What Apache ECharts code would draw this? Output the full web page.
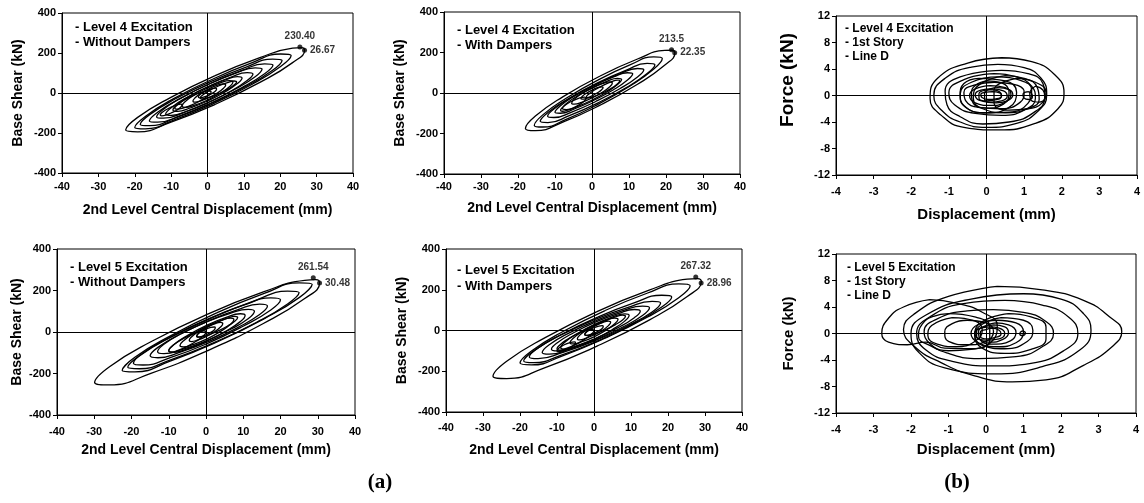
<!DOCTYPE html>
<html>
<head>
<meta charset="utf-8">
<script src="https://cdn.jsdelivr.net/npm/echarts@6/dist/echarts.min.js"></script>
<style>
html, body { margin: 0; padding: 0; background: #fff; }
#chart { width: 1144px; height: 503px; }
</style>
</head>
<body>
<div id="chart"></div>
<script>
// hysteresis loops, [displacement mm, force kN]
var p1Loops = [
    [[2.1,87],[14.4,177],[23.4,224],[25.9,227],[26.7,215],[23.4,152],[14.4,53],[2.1,-57],[-10.2,-147],[-19.2,-194],[-22.5,-185],[-19.2,-122],[-10.2,-23],[2.1,87]],
    [[1.5,70],[12.3,152],[20.1,195],[23,188],[20.1,133],[12.3,44],[1.5,-54],[-9.3,-136],[-17.1,-179],[-20,-172],[-17.1,-117],[-9.3,-28],[1.5,70]],
    [[1,58],[10.8,131],[17.9,169],[20.5,163],[17.9,114],[10.8,35],[1,-52],[-8.8,-125],[-15.9,-163],[-18.5,-157],[-15.9,-108],[-8.8,-29],[1,58]],
    [[1,50],[9.5,113],[15.7,146],[18,140],[15.7,96],[9.5,27],[1,-50],[-7.5,-113],[-13.7,-146],[-16,-140],[-13.7,-96],[-7.5,-27],[1,50]],
    [[0.5,45],[7.8,99],[13.1,126],[15,120],[13.1,81],[7.8,21],[0.5,-45],[-6.8,-99],[-12.1,-126],[-14,-120],[-12.1,-81],[-6.8,-21],[0.5,45]],
    [[0.5,35],[6.5,80],[10.9,102],[12.5,95],[10.9,62],[6.5,10],[0.5,-45],[-5.5,-90],[-9.9,-112],[-11.5,-105],[-9.9,-72],[-5.5,-20],[0.5,35]],
    [[0,30],[4.8,65],[8.2,82],[9.5,75],[8.2,47],[4.8,5],[0,-40],[-4.8,-75],[-8.2,-92],[-9.5,-85],[-8.2,-57],[-4.8,-15],[0,30]],
    [[0,25],[3.5,51],[6.1,62],[7,55],[6.1,32],[3.5,-1],[0,-35],[-3.5,-61],[-6.1,-72],[-7,-65],[-6.1,-42],[-3.5,-9],[0,25]],
    [[0.5,22],[2.8,39],[4.4,46],[5,40],[4.4,24],[2.8,1],[0.5,-22],[-1.8,-39],[-3.4,-46],[-4,-40],[-3.4,-24],[-1.8,-1],[0.5,22]],
    [[0,14],[1.3,22],[2.2,24],[2.5,20],[2.2,10],[1.3,-2],[0,-14],[-1.3,-22],[-2.2,-24],[-2.5,-20],[-2.2,-10],[-1.3,2],[0,14]],
    [[3,35],[5.5,52],[7.3,60],[8,55],[7.3,40],[5.5,18],[3,-5],[0.5,-22],[-1.3,-30],[-2,-25],[-1.3,-10],[0.5,12],[3,35]],
    [[-4,-13],[-1.5,4],[0.3,11],[1,5],[0.3,-11],[-1.5,-34],[-4,-57],[-6.5,-74],[-8.3,-81],[-9,-75],[-8.3,-59],[-6.5,-36],[-4,-13]],
    [[-10,-70],[-8.5,-60],[-7.4,-56],[-7,-60],[-7.4,-71],[-8.5,-86],[-10,-100],[-11.5,-111],[-12.6,-114],[-13,-110],[-12.6,-99],[-11.5,-85],[-10,-70]]
];
var p1Peaks = [[25.4, 230.4], [26.67, 214]];
var p1PeakLabels = ['230.40', '26.67'];

var p2Loops = [
    [[2.2,84],[12.3,168],[19.7,210],[21.7,211],[22.4,199],[19.7,138],[12.3,43],[2.2,-60],[-7.9,-144],[-15.3,-186],[-18,-175],[-15.3,-114],[-7.9,-19],[2.2,84]],
    [[1.7,65],[10.4,140],[16.7,178],[19,170],[16.7,118],[10.4,36],[1.7,-55],[-7,-130],[-13.3,-168],[-15.6,-160],[-13.3,-108],[-7,-26],[1.7,65]],
    [[1.5,50],[9.3,113],[14.9,146],[17,140],[14.9,96],[9.3,27],[1.5,-50],[-6.3,-113],[-11.9,-146],[-14,-140],[-11.9,-96],[-6.3,-27],[1.5,50]],
    [[1,42],[7.5,94],[12.3,121],[14,115],[12.3,79],[7.5,21],[1,-42],[-5.5,-94],[-10.3,-121],[-12,-115],[-10.3,-79],[-5.5,-21],[1,42]],
    [[0.5,36],[5.8,79],[9.6,100],[11,95],[9.6,64],[5.8,16],[0.5,-36],[-4.8,-79],[-8.6,-100],[-10,-95],[-8.6,-64],[-4.8,-16],[0.5,36]],
    [[0,25],[4,57],[6.9,72],[8,67],[6.9,42],[4,5],[0,-35],[-4,-67],[-6.9,-82],[-8,-77],[-6.9,-52],[-4,-15],[0,25]],
    [[0,24],[2.8,46],[4.8,55],[5.5,50],[4.8,31],[2.8,4],[0,-24],[-2.8,-46],[-4.8,-55],[-5.5,-50],[-4.8,-31],[-2.8,-4],[0,24]],
    [[0,14],[1.5,26],[2.6,30],[3,27],[2.6,16],[1.5,1],[0,-14],[-1.5,-26],[-2.6,-30],[-3,-27],[-2.6,-16],[-1.5,-1],[0,14]],
    [[3,38],[5.3,56],[6.9,64],[7.5,60],[6.9,46],[5.3,24],[3,2],[0.8,-16],[-0.9,-24],[-1.5,-20],[-0.9,-6],[0.8,16],[3,38]],
    [[-5,-37],[-3.3,-24],[-2,-20],[-1.5,-25],[-2,-38],[-3.3,-56],[-5,-73],[-6.8,-86],[-8,-90],[-8.5,-85],[-8,-72],[-6.8,-54],[-5,-37]]
];
var p2Peaks = [[21.5, 213.5], [22.35, 199]];
var p2PeakLabels = ['213.5', '22.35'];

var p3Loops = [
    [[0.4,5.7],[1.2,5.1],[1.8,3.2],[2.06,0.4],[1.9,-2.0],[1.3,-4.2],[0.3,-5.2],[-0.6,-4.8],[-1.2,-3.0],[-1.5,-0.4],[-1.3,2.6],[-0.5,4.9],[0.4,5.7]],
    [[0.3,4.7],[1.0,4.2],[1.45,2.6],[1.6,0.2],[1.4,-2.2],[0.8,-4.2],[0,-4.8],[-0.7,-4.0],[-1.2,-2.2],[-1.4,0],[-1.1,2.6],[-0.4,4.3],[0.3,4.7]],
    [[0.4,3.8],[1.1,3.3],[1.5,1.8],[1.55,-0.2],[1.3,-2.4],[0.6,-4.0],[-0.1,-4.3],[-0.7,-3.2],[-1.05,-1.4],[-1.1,0.6],[-0.7,2.8],[0.4,3.8]],
    [[0.2,3.3],[0.8,2.8],[1.2,1.4],[1.3,-0.4],[1.0,-2.2],[0.4,-3.0],[-0.3,-2.7],[-0.85,-1.4],[-1.0,0.4],[-0.6,2.4],[0.2,3.3]],
    [[0.3,2.8],[0.9,2.3],[1.2,0.8],[1.1,-1.2],[0.6,-2.5],[-0.1,-2.6],[-0.6,-1.5],[-0.7,0.2],[-0.4,2.0],[0.3,2.8]],
    [[0.2,2.0],[0.7,1.7],[1.0,0.5],[0.9,-1.0],[0.4,-2.0],[-0.2,-1.8],[-0.55,-0.8],[-0.6,0.5],[-0.3,1.6],[0.2,2.0]],
    [[0.1,1.5],[0.5,1.2],[0.65,0.2],[0.5,-1.0],[0.1,-1.5],[-0.3,-1.1],[-0.45,0],[-0.3,1.0],[0.1,1.5]],
    [[0.15,1.0],[0.45,0.7],[0.55,-0.1],[0.4,-0.8],[0.1,-1.0],[-0.2,-0.7],[-0.3,0.1],[-0.15,0.8],[0.15,1.0]],
    [[0.15,0.6],[0.35,0.4],[0.4,-0.1],[0.25,-0.5],[0.05,-0.6],[-0.12,-0.3],[-0.15,0.2],[0,0.5],[0.15,0.6]],
    [[0.3,1.2],[0.6,0.9],[0.7,0.1],[0.55,-0.8],[0.25,-1.1],[-0.05,-0.6],[-0.05,0.4],[0.1,1.0],[0.3,1.2]],
    [[1.1,0.6],[1.2,0.3],[1.22,-0.2],[1.12,-0.6],[1.0,-0.4],[0.97,0.2],[1.1,0.6]],
    [[0.8,2.6],[1.3,2.0],[1.58,0.5],[1.5,-1.0],[1.1,-2.0],[0.6,-2.2],[0.2,-1.0],[0.2,0.8],[0.8,2.6]],
    [[-0.2,2.6],[0.5,2.2],[0.8,0.5],[0.6,-1.8],[0,-2.6],[-0.55,-1.8],[-0.7,0],[-0.6,1.8],[-0.2,2.6]],
    [[0.0,2.2],[0.4,1.9],[0.6,0.4],[0.45,-1.3],[0.0,-1.9],[-0.35,-1.2],[-0.4,0.3],[-0.3,1.5],[0.0,2.2]],
    [[0.5,3.0],[1.0,2.6],[1.35,1.2],[1.4,-0.6],[1.1,-2.0],[0.5,-2.6],[-0.1,-2.0],[-0.35,-0.4],[-0.2,1.6],[0.5,3.0]],
    [[1.3,1.4],[1.5,0.8],[1.55,-0.2],[1.4,-1.0],[1.2,-0.8],[1.15,0.3],[1.3,1.4]],
    [[0.1,0.9],[0.3,0.7],[0.4,0.0],[0.3,-0.6],[0.0,-0.8],[-0.2,-0.4],[-0.2,0.3],[0.1,0.9]]
];

var p4Loops = [
    [[0.3,85],[15.4,193],[26.5,249],[29.5,252],[30.5,237],[26.5,161],[15.4,41],[0.3,-91],[-14.8,-199],[-25.9,-255],[-29.9,-243],[-25.9,-167],[-14.8,-47],[0.3,85]],
    [[3,93],[15.8,187],[25.1,237],[28.5,230],[25.1,167],[15.8,66],[3,-48],[-9.8,-142],[-19.1,-192],[-22.5,-185],[-19.1,-122],[-9.8,-21],[3,93]],
    [[2,72],[13.5,154],[21.9,197],[25,190],[21.9,135],[13.5,46],[2,-52],[-9.5,-134],[-17.9,-177],[-21,-170],[-17.9,-115],[-9.5,-26],[2,72]],
    [[0.3,61],[10.1,129],[17.4,164],[20,155],[17.4,106],[10.1,29],[0.3,-56],[-9.6,-124],[-16.9,-159],[-19.5,-150],[-16.9,-101],[-9.6,-24],[0.3,61]],
    [[0.8,55],[8.6,108],[14.4,134],[16.5,125],[14.4,84],[8.6,22],[0.8,-45],[-7.1,-98],[-12.9,-124],[-15,-115],[-12.9,-74],[-7.1,-12],[0.8,55]],
    [[0,48],[6.5,90],[11.3,109],[13,100],[11.3,64],[6.5,12],[0,-43],[-6.5,-85],[-11.3,-104],[-13,-95],[-11.3,-59],[-6.5,-7],[0,48]],
    [[0.3,33],[5.4,70],[9.2,88],[10.5,80],[9.2,50],[5.4,5],[0.3,-43],[-4.8,-80],[-8.6,-98],[-10,-90],[-8.6,-60],[-4.8,-15],[0.3,33]],
    [[0.3,28],[3.9,55],[6.6,67],[7.5,60],[6.6,37],[3.9,3],[0.3,-33],[-3.4,-60],[-6,-72],[-7,-65],[-6,-42],[-3.4,-8],[0.3,28]],
    [[0,22],[2.3,39],[3.9,46],[4.5,40],[3.9,24],[2.3,1],[0,-22],[-2.3,-39],[-3.9,-46],[-4.5,-40],[-3.9,-24],[-2.3,-1],[0,22]],
    [[0,14],[1.3,22],[2.2,24],[2.5,20],[2.2,10],[1.3,-2],[0,-14],[-1.3,-22],[-2.2,-24],[-2.5,-20],[-2.2,-10],[-1.3,2],[0,14]],
    [[3,47],[5.8,67],[7.8,75],[8.5,70],[7.8,53],[5.8,29],[3,3],[0.3,-17],[-1.8,-25],[-2.5,-20],[-1.8,-3],[0.3,22],[3,47]],
    [[-5,-21],[-2.5,-2],[-0.7,6],[0,0],[-0.7,-18],[-2.5,-43],[-5,-69],[-7.5,-88],[-9.3,-96],[-10,-90],[-9.3,-72],[-7.5,-47],[-5,-21]]
];
var p4Peaks = [[28.8, 261.54], [30.48, 236]];
var p4PeakLabels = ['261.54', '30.48'];

var p5Loops = [
    [[0.8,93],[14.9,198],[25.2,252],[28,255],[29,241],[25.2,167],[14.9,51],[0.8,-77],[-13.2,-182],[-23.6,-236],[-27.3,-225],[-23.6,-151],[-13.2,-35],[0.8,93]],
    [[3,98],[14.5,184],[22.9,229],[26,220],[22.9,161],[14.5,66],[3,-38],[-8.5,-124],[-16.9,-169],[-20,-160],[-16.9,-101],[-8.5,-6],[3,98]],
    [[1,66],[11,137],[18.3,173],[21,165],[18.3,115],[11,36],[1,-51],[-9,-122],[-16.3,-158],[-19,-150],[-16.3,-100],[-9,-21],[1,66]],
    [[0.3,55],[9.2,114],[15.7,143],[18,135],[15.7,91],[9.2,24],[0.3,-50],[-8.6,-109],[-15.1,-138],[-17.5,-130],[-15.1,-86],[-8.6,-19],[0.3,55]],
    [[0.5,48],[7.8,97],[13.1,120],[15,112],[13.1,74],[7.8,17],[0.5,-44],[-6.8,-93],[-12.1,-116],[-14,-108],[-12.1,-70],[-6.8,-13],[0.5,48]],
    [[0.5,42],[6.5,83],[10.9,103],[12.5,95],[10.9,63],[6.5,14],[0.5,-39],[-5.5,-80],[-9.9,-100],[-11.5,-92],[-9.9,-60],[-5.5,-11],[0.5,42]],
    [[0.3,31],[4.9,66],[8.3,82],[9.5,75],[8.3,46],[4.9,4],[0.3,-41],[-4.4,-76],[-7.8,-92],[-9,-85],[-7.8,-56],[-4.4,-14],[0.3,31]],
    [[0,26],[3.3,50],[5.6,61],[6.5,55],[5.6,33],[3.3,2],[0,-31],[-3.3,-55],[-5.6,-66],[-6.5,-60],[-5.6,-38],[-3.3,-7],[0,26]],
    [[0,22],[2.3,39],[3.9,46],[4.5,40],[3.9,24],[2.3,1],[0,-22],[-2.3,-39],[-3.9,-46],[-4.5,-40],[-3.9,-24],[-2.3,-1],[0,22]],
    [[0,14],[1.3,22],[2.2,24],[2.5,20],[2.2,10],[1.3,-2],[0,-14],[-1.3,-22],[-2.2,-24],[-2.5,-20],[-2.2,-10],[-1.3,2],[0,14]],
    [[3,47],[5.8,67],[7.8,75],[8.5,70],[7.8,53],[5.8,29],[3,3],[0.3,-17],[-1.8,-25],[-2.5,-20],[-1.8,-3],[0.3,22],[3,47]],
    [[-5,-21],[-2.5,-2],[-0.7,6],[0,0],[-0.7,-18],[-2.5,-43],[-5,-69],[-7.5,-88],[-9.3,-96],[-10,-90],[-9.3,-72],[-7.5,-47],[-5,-21]],
    [[-7.5,-66],[-6.3,-58],[-5.3,-56],[-5,-60],[-5.3,-70],[-6.3,-82],[-7.5,-94],[-8.8,-102],[-9.7,-104],[-10,-100],[-9.7,-90],[-8.8,-78],[-7.5,-66]]
];
var p5Peaks = [[27.5, 262], [28.96, 233]];
var p5PeakLabels = ['267.32', '28.96'];

var p6Loops = [
    [[0.3,7.1],[1.5,6.6],[2.6,5.0],[3.3,2.5],[3.62,0.3],[3.4,-1.8],[2.6,-4.8],[1.6,-7.0],[0.7,-7.3],[-0.3,-6.4],[-1.2,-4.4],[-1.9,-2.0],[-2.2,0.6],[-1.9,3.0],[-1.0,5.6],[0.3,7.1]],
    [[-1.5,5.1],[-0.8,4.6],[-0.1,3.2],[0.3,1.2],[0.2,-0.9],[-0.4,-2.3],[-1.1,-2.2],[-1.6,-1.3],[-2.1,-1.7],[-2.6,-1.3],[-2.78,0],[-2.6,2.3],[-2.2,4.0],[-1.5,5.1]],
    [[1.0,6.0],[2.0,5.2],[2.6,3.0],[2.8,0.5],[2.5,-2.5],[1.5,-5.0],[0.2,-6.1],[-1.1,-5.2],[-1.8,-2.8],[-2.0,0],[-1.6,2.8],[-0.4,5.2],[1.0,6.0]],
    [[0.5,5.0],[1.5,4.3],[2.2,2.5],[2.45,0],[2.1,-2.5],[1.2,-4.5],[0.2,-4.9],[-0.9,-4.2],[-1.6,-2.5],[-1.85,0],[-1.5,2.5],[-0.6,4.5],[0.5,5.0]],
    [[0.2,3.6],[1.0,3.2],[1.6,1.8],[1.8,0],[1.5,-2.0],[0.8,-3.5],[-0.2,-3.8],[-1.0,-3.0],[-1.5,-1.5],[-1.65,0.3],[-1.3,2.2],[-0.5,3.4],[0.2,3.6]],
    [[-1.0,3.0],[-0.3,2.5],[0.1,1.0],[0.1,-1.0],[-0.4,-2.4],[-1.0,-2.6],[-1.5,-1.8],[-1.8,-0.4],[-1.7,1.4],[-1.4,2.6],[-1.0,3.0]],
    [[-0.9,2.4],[-0.3,1.9],[-0.1,0.5],[-0.3,-1.2],[-0.8,-2.0],[-1.3,-1.6],[-1.55,-0.3],[-1.45,1.2],[-0.9,2.4]],
    [[0.6,3.0],[1.2,2.5],[1.6,1.0],[1.6,-0.8],[1.2,-2.4],[0.5,-3.0],[-0.1,-2.2],[-0.3,-0.2],[-0.1,1.8],[0.6,3.0]],
    [[0.3,2.0],[0.8,1.6],[1.0,0.2],[0.8,-1.4],[0.3,-2.0],[-0.2,-1.4],[-0.4,0],[-0.2,1.4],[0.3,2.0]],
    [[0.2,1.3],[0.5,1.0],[0.6,0.1],[0.45,-0.9],[0.1,-1.3],[-0.2,-0.8],[-0.3,0.1],[-0.1,0.9],[0.2,1.3]],
    [[0.15,0.8],[0.35,0.5],[0.4,-0.1],[0.25,-0.6],[0.05,-0.8],[-0.15,-0.4],[-0.15,0.2],[0,0.6],[0.15,0.8]],
    [[0.25,1.6],[0.6,1.3],[0.8,0.2],[0.65,-1.1],[0.2,-1.6],[-0.15,-1.0],[-0.2,0.3],[0,1.2],[0.25,1.6]],
    [[0.97,0.4],[1.05,0.1],[1.03,-0.2],[0.95,-0.3],[0.9,0],[0.97,0.4]],
    [[0.1,1.0],[0.35,0.8],[0.5,0.0],[0.35,-0.8],[0.0,-1.0],[-0.25,-0.5],[-0.25,0.4],[0.1,1.0]],
    [[0.4,2.4],[1.0,2.0],[1.25,0.5],[1.1,-1.2],[0.5,-2.3],[-0.1,-1.8],[-0.3,-0.2],[-0.1,1.4],[0.4,2.4]],
    [[-0.5,2.0],[0,1.6],[0.2,0.3],[0.0,-1.2],[-0.5,-1.7],[-1.0,-1.2],[-1.1,0.2],[-0.9,1.5],[-0.5,2.0]]
];

var notes = [
    '- Level 4 Excitation\n- Without Dampers',
    '- Level 4 Excitation\n- With Dampers',
    '- Level 4 Excitation\n- 1st Story\n- Line D',
    '- Level 5 Excitation\n- Without Dampers',
    '- Level 5 Excitation\n- With Dampers',
    '- Level 5 Excitation\n- 1st Story\n- Line D'
];
var xNames = ['2nd Level Central Displacement (mm)', 'Displacement (mm)'];
var yNames = ['Base Shear (kN)', 'Force (kN)'];
var partLabels = ['(a)', '(b)'];

var FONT = 'Arial, "Liberation Sans", sans-serif';

// yn: y-name font size; P3's title sits higher and larger, so it is placed as a graphic
var panels = [
    {loops: p1Loops, peaks: p1Peaks, tags: p1PeakLabels, kind: 0, grid: {left: 62, top: 13, width: 291, height: 160}, lm: 8, ng: 30, yg: 37, yn: 14, note: [75, 20, 15]},
    {loops: p2Loops, peaks: p2Peaks, tags: p2PeakLabels, kind: 0, grid: {left: 444, top: 12, width: 296, height: 162}, lm: 7, ng: 27, yg: 37, yn: 14, note: [457, 23, 15]},
    {loops: p3Loops, peaks: [], tags: [], kind: 1, grid: {left: 836, top: 16, width: 301, height: 159}, lm: 11, ng: 32, yg: 38, yn: 0, note: [845, 22, 14]},
    {loops: p4Loops, peaks: p4Peaks, tags: p4PeakLabels, kind: 0, grid: {left: 57, top: 249, width: 298, height: 166}, lm: 11, ng: 28, yg: 33, yn: 14, note: [70, 260, 15]},
    {loops: p5Loops, peaks: p5Peaks, tags: p5PeakLabels, kind: 0, grid: {left: 446, top: 249, width: 296, height: 163}, lm: 10, ng: 31, yg: 37, yn: 14, note: [457, 262, 16]},
    {loops: p6Loops, peaks: [], tags: [], kind: 1, grid: {left: 836, top: 254, width: 300, height: 159}, lm: 11, ng: 29, yg: 40, yn: 15, note: [847, 261, 14]}
];

var grids = [], xAxes = [], yAxes = [], series = [], graphics = [];

panels.forEach(function (p, i) {
    var a = p.kind === 0;
    grids.push(Object.assign({show: true, borderColor: '#000', borderWidth: 1, containLabel: false}, p.grid));
    xAxes.push({
        gridIndex: i, type: 'value',
        min: a ? -40 : -4, max: a ? 40 : 4, interval: a ? 10 : 1,
        name: xNames[p.kind], nameLocation: 'middle', nameGap: p.ng,
        nameTextStyle: {fontFamily: FONT, fontWeight: 'bold', fontSize: a ? 14 : 15, color: '#000'},
        axisLine: {onZero: false, lineStyle: {color: '#000', width: 1}},
        axisTick: {inside: false, length: 4, lineStyle: {color: '#000'}},
        axisLabel: {fontFamily: FONT, fontWeight: 'bold', fontSize: 11, color: '#000', margin: p.lm},
        splitLine: {show: false}
    });
    yAxes.push({
        gridIndex: i, type: 'value',
        min: a ? -400 : -12, max: a ? 400 : 12, interval: a ? 200 : 4,
        name: p.yn ? yNames[p.kind] : '', nameLocation: 'middle', nameGap: p.yg, nameRotate: 90,
        nameTextStyle: {fontFamily: FONT, fontWeight: 'bold', fontSize: p.yn || 14, color: '#000'},
        axisLine: {onZero: false, lineStyle: {color: '#000', width: 1}},
        axisTick: {inside: false, length: 4, lineStyle: {color: '#000'}},
        axisLabel: {fontFamily: FONT, fontWeight: 'bold', fontSize: 11, color: '#000', margin: 6},
        splitLine: {show: false}
    });

    p.loops.forEach(function (loop, j) {
        var s = {
            type: 'line', xAxisIndex: i, yAxisIndex: i, data: loop,
            smooth: 0.5, symbol: 'none', silent: true,
            lineStyle: {color: '#000', width: 1.3}
        };
        if (j === 0) {
            s.markLine = {
                silent: true, symbol: 'none', label: {show: false},
                lineStyle: {color: '#000', type: 'solid', width: 1},
                data: [{xAxis: 0}, {yAxis: 0}]
            };
        }
        series.push(s);
    });

    if (p.peaks.length) {
        series.push({
            type: 'scatter', xAxisIndex: i, yAxisIndex: i, symbolSize: 5, silent: true,
            itemStyle: {color: '#000'},
            data: p.peaks.map(function (pt, k) {
                return {
                    value: pt,
                    label: {
                        show: true, formatter: p.tags[k], position: k === 0 ? 'top' : 'right',
                        distance: 3, fontFamily: FONT, fontWeight: 'bold', fontSize: 10, color: '#000'
                    }
                };
            })
        });
    }

    graphics.push({
        type: 'text', x: p.note[0], y: p.note[1], silent: true,
        style: {text: notes[i], font: 'bold ' + (a ? 13 : 12) + 'px ' + FONT, lineHeight: p.note[2], fill: '#000', verticalAlign: 'top'}
    });
});

graphics.push({type: 'text', x: 788, y: 80, rotation: Math.PI / 2, silent: true,
    style: {text: yNames[1], font: 'bold 19px ' + FONT, fill: '#000', align: 'center', verticalAlign: 'middle'}});
graphics.push({type: 'text', x: 380, y: 483, silent: true,
    style: {text: partLabels[0], font: 'bold 21px "Liberation Serif", "Times New Roman", serif', fill: '#000', align: 'center', verticalAlign: 'middle'}});
graphics.push({type: 'text', x: 957, y: 483, silent: true,
    style: {text: partLabels[1], font: 'bold 21px "Liberation Serif", "Times New Roman", serif', fill: '#000', align: 'center', verticalAlign: 'middle'}});

var chart = echarts.init(document.getElementById('chart'), null, {renderer: 'canvas'});
chart.setOption({
    animation: false,
    backgroundColor: '#fff',
    grid: grids,
    xAxis: xAxes,
    yAxis: yAxes,
    series: series,
    graphic: graphics
});
</script>
</body>
</html>
